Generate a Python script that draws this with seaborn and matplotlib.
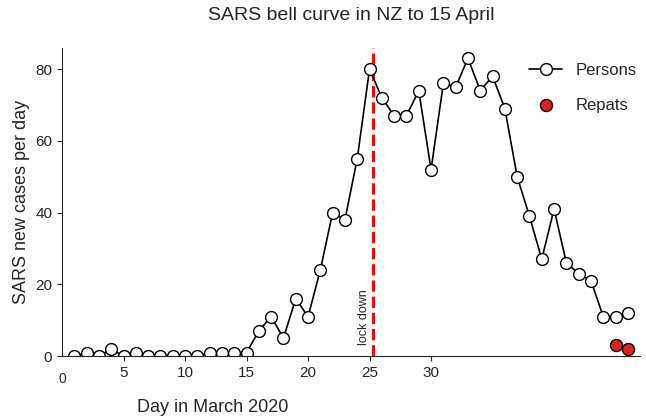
import matplotlib
matplotlib.use("Agg")
import matplotlib.pyplot as plt
import seaborn as sns
import pandas as pd

days = list(range(1, 47))
persons = [0,1,0,2,0,1,0,0,0,0,0,1,1,1,1,7,11,5,16,11,24,40,38,55,80,72,67,67,74,52,76,75,83,74,78,69,50,39,27,41,26,23,21,11,11,12]
repat_days = [45, 46]
repats = [3, 2]
lockdown_day = 25.3
xticks = [5, 10, 15, 20, 25, 30]

sns.set_style("ticks")
plt.rcParams["font.family"] = "Liberation Sans"
fig = plt.figure(figsize=(6.46, 4.17), dpi=100)
ax = fig.add_axes([0.096, 0.146, 0.895, 0.74])
df = pd.DataFrame({"day": days, "n": persons})
sns.lineplot(data=df, x="day", y="n", ax=ax, color="black", lw=1.2,
             marker="o", markersize=8.5, markerfacecolor="white",
             markeredgecolor="black", markeredgewidth=1, label="Persons")
sns.scatterplot(x=repat_days, y=repats, ax=ax, color="#e0201f", edgecolor="black",
                s=75, linewidth=1, label="Repats", zorder=5)
ax.axvline(lockdown_day, color="red", ls="--", lw=2.2, zorder=1)
ax.text(lockdown_day - 0.3, 3, "lock down", rotation=90, fontsize=9, ha="right", va="bottom")
ax.set_xlim(0, 47)
ax.set_ylim(0, 86)
ax.set_xticks(xticks)
ax.set_yticks([0, 20, 40, 60, 80])
ax.tick_params(labelsize=11, direction="out")
ax.text(0, -4.5, "0", fontsize=10, ha="center", va="top")
ax.set_xlabel("Day in March 2020", fontsize=13, labelpad=14, x=0.26)
ax.set_ylabel("SARS new cases per day", fontsize=13)
ax.set_title("SARS bell curve in NZ to 15 April", fontsize=14, pad=20)
for s in ["top", "right"]:
    ax.spines[s].set_visible(False)
ax.legend(frameon=False, fontsize=12, loc="upper right", bbox_to_anchor=(1.02, 1.0),
          labelspacing=1.2)
fig.savefig("out.png", dpi=100)
